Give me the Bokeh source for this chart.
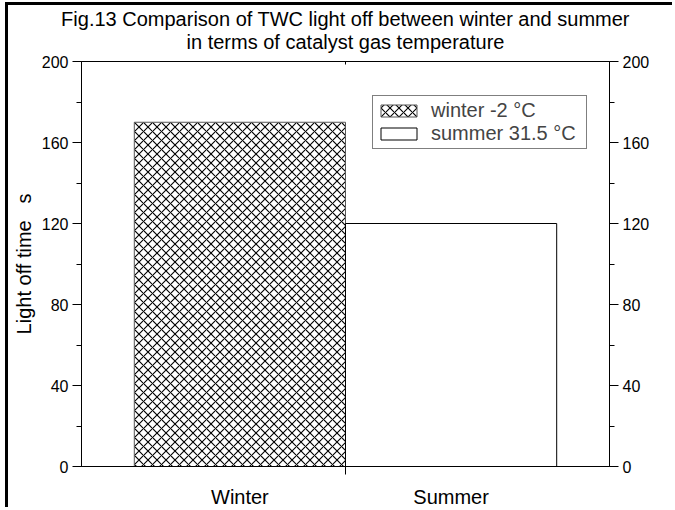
from bokeh.plotting import figure
from bokeh.models import (ColumnDataSource, LinearAxis, FixedTicker, Range1d,
                          Legend, LegendItem, Title)
from bokeh.embed import file_html
from bokeh.resources import INLINE

# ---- data ----
categories = ["Winter", "Summer"]
positions = [1, 2]
light_off_time = [170, 120]
series_labels = ["winter -2 \u00b0C", "summer 31.5 \u00b0C"]
y_ticks = [0, 40, 80, 120, 160, 200]
y_minor = [20, 60, 100, 140, 180]
title_lines = ["Fig.13 Comparison of TWC light off between winter and summer",
               "in terms of catalyst gas temperature"]

FONT = "Liberation Sans"

p = figure(width=667, height=505, output_backend="svg", toolbar_location=None,
           x_range=Range1d(0.25, 2.75), y_range=Range1d(0, 200),
           min_border_left=73, min_border_top=56, min_border_right=66,
           min_border_bottom=43, x_axis_location=None, y_axis_location=None,
           title=None,
           styles={"margin-left": "5px", "margin-top": "2px",
                   "border-left": "3px solid black",
                   "border-top": "3px solid black"})

p.xgrid.visible = False
p.ygrid.visible = False
p.outline_line_color = "black"
p.outline_line_width = 1
p.background_fill_color = "white"
p.border_fill_alpha = 0.0

w_src = ColumnDataSource(dict(x=[positions[0]], top=[light_off_time[0]]))
s_src = ColumnDataSource(dict(x=[positions[1]], top=[light_off_time[1]]))

r_w = p.vbar(x="x", top="top", width=1.0, source=w_src, fill_color="white",
             line_color="#555555", line_width=1, hatch_pattern="x",
             hatch_color="black", hatch_scale=9, hatch_weight=1.1)
r_s = p.vbar(x="x", top="top", width=1.0, source=s_src, fill_color="white",
             line_color="black", line_width=1)

# axes
def style_y(ax):
    ax.ticker = FixedTicker(ticks=y_ticks, minor_ticks=y_minor)
    ax.major_tick_out = 9
    ax.major_tick_in = 0
    ax.minor_tick_out = 5
    ax.minor_tick_in = 0
    ax.major_label_text_font = FONT
    ax.major_label_text_font_size = "16px"
    ax.major_label_text_color = "black"
    ax.major_label_standoff = 4
    ax.axis_line_color = "black"

yl = LinearAxis(axis_label="Light off time\u00a0\u00a0\u00a0s")
style_y(yl)
yl.axis_label_text_font = FONT
yl.axis_label_text_font_size = "20px"
yl.axis_label_text_font_style = "normal"
yl.axis_label_text_color = "black"
yl.axis_label_standoff = 4
p.add_layout(yl, "left")

yr = LinearAxis()
style_y(yr)
p.add_layout(yr, "right")

xb = LinearAxis()
xb.ticker = FixedTicker(ticks=positions, minor_ticks=[1.5])
xb.major_label_overrides = {positions[i]: categories[i] for i in range(2)}
xb.major_tick_out = 0
xb.major_tick_in = 0
xb.minor_tick_out = 8
xb.minor_tick_in = 0
xb.major_label_text_font = FONT
xb.major_label_text_font_size = "20px"
xb.major_label_text_color = "black"
xb.major_label_standoff = 11
xb.axis_line_color = "black"
p.add_layout(xb, "below")

xt = LinearAxis()
xt.ticker = FixedTicker(ticks=[], minor_ticks=[1.5])
xt.major_label_text_font_size = "0px"
xt.major_tick_out = 0
xt.minor_tick_out = 0
xt.minor_tick_in = 3
xt.major_label_standoff = 0
xt.axis_line_color = "black"
p.add_layout(xt, "above")

# inner line first (closest to the frame), then the outer line
title_standoffs = [-20, 18]
for line, so in zip(reversed(title_lines), reversed(title_standoffs)):
    t = Title(text=line, align="center", text_font=FONT, text_font_size="20px",
              text_font_style="normal", text_color="black",
              standoff=so, offset=0)
    p.add_layout(t, "above")

legend = Legend(items=[LegendItem(label=series_labels[0], renderers=[r_w]),
                       LegendItem(label=series_labels[1], renderers=[r_s])],
                location=(291, 317))
legend.glyph_width = 45
legend.glyph_height = 15
legend.label_text_font = FONT
legend.label_text_font_size = "20px"
legend.label_height = 16
legend.label_width = 152
legend.label_standoff = 10
legend.spacing = 0
legend.padding = 3
legend.margin = 0
legend.border_line_color = "black"
legend.border_line_width = 1
legend.background_fill_alpha = 1.0
p.add_layout(legend, "center")

open("out.html", "w").write(file_html(p, INLINE))
